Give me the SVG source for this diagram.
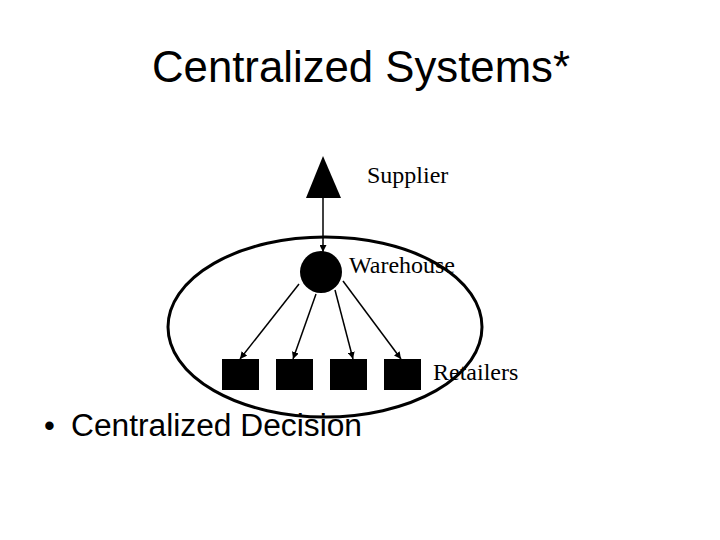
<svg xmlns="http://www.w3.org/2000/svg" width="720" height="540" viewBox="0 0 720 540">
<style>
.title{font-family:"Liberation Sans",Arial,sans-serif;font-size:44px;fill:#000}
.bullet{font-family:"Liberation Sans",Arial,sans-serif;font-size:31px;fill:#000}
.lbl{font-family:"Liberation Serif","Times New Roman",serif;font-size:24px;fill:#000}
.conn{stroke:#000;stroke-width:1.5;fill:none;marker-end:url(#ah)}
</style>
<defs>
<marker id="ah" viewBox="0 0 10 10" refX="10" refY="5" markerWidth="7" markerHeight="7" markerUnits="userSpaceOnUse" orient="auto">
<path d="M0,0 L10,5 L0,10 z" fill="#000"/>
</marker>
</defs>
<rect width="720" height="540" fill="#fff"/>
<text class="title" x="152" y="82" textLength="418" lengthAdjust="spacingAndGlyphs">Centralized Systems*</text>
<g id="region">
<ellipse cx="325" cy="327" rx="157" ry="90" fill="none" stroke="#000" stroke-width="3"/>
</g>
<g id="connectors">
<line class="conn" x1="323" y1="197" x2="323" y2="252"/>
<line class="conn" x1="299" y1="284" x2="240" y2="359"/>
<line class="conn" x1="316" y1="294" x2="293" y2="359"/>
<line class="conn" x1="335" y1="290" x2="353" y2="359"/>
<line class="conn" x1="343" y1="281" x2="401" y2="359"/>
</g>
<g id="supplier">
<polygon points="323,156 306,198 341,198" fill="#000"/>
<text class="lbl" x="367" y="183">Supplier</text>
</g>
<g id="warehouse">
<circle cx="321" cy="272" r="21" fill="#000"/>
<text class="lbl" x="349" y="273">Warehouse</text>
</g>
<g id="retailers">
<rect x="222" y="359" width="37" height="31" fill="#000"/>
<rect x="276" y="359" width="37" height="31" fill="#000"/>
<rect x="330" y="359" width="37" height="31" fill="#000"/>
<rect x="384" y="359" width="37" height="31" fill="#000"/>
<text class="lbl" x="433" y="380">Retailers</text>
</g>
<g id="bullet">
<text class="bullet" x="44" y="436">•</text>
<text class="bullet" x="71" y="436" textLength="291" lengthAdjust="spacingAndGlyphs">Centralized Decision</text>
</g>
</svg>
